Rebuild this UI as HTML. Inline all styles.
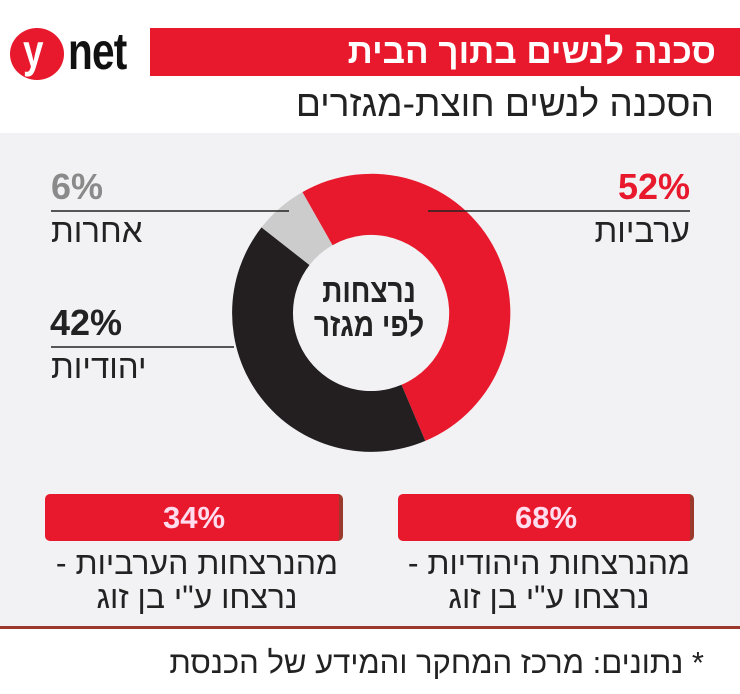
<!DOCTYPE html>
<html><head><meta charset="utf-8"><style>
html,body{margin:0;padding:0;background:#fff;}
body{width:740px;height:694px;position:relative;overflow:hidden;font-family:"Liberation Sans","DejaVu Sans",sans-serif;}
.t{position:absolute;white-space:nowrap;direction:rtl;}
</style></head><body>
<div style="position:absolute;left:10px;top:28px;width:54px;height:52px;border-radius:50%;background:#e8192c;"></div>
<div class="t" style="direction:ltr;left:23px;top:24px;font-size:46px;font-weight:bold;color:#fff;transform:scaleX(0.8);transform-origin:left;">y</div>
<div class="t" style="direction:ltr;left:68px;top:22px;font-size:52px;font-weight:bold;color:#111;transform:scaleX(0.78);transform-origin:left;letter-spacing:-1px;">net</div>
<div style="position:absolute;left:150px;top:28px;width:590px;height:48px;background:#e8192c;"></div>
<div class="t" style="right:24px;top:32px;font-size:35px;font-weight:bold;color:#fff;">סכנה לנשים בתוך הבית</div>
<div class="t" style="right:26px;top:83px;font-size:37px;color:#222;">הסכנה לנשים חוצת-מגזרים</div>
<div style="position:absolute;left:0;top:133px;width:740px;height:493px;background:#f2f2f4;"></div>
<div style="position:absolute;left:0;top:626px;width:740px;height:3px;background:#9b3a2c;"></div>
<svg style="position:absolute;left:0;top:0" width="740" height="694">
<g transform="translate(371,313)">
<path d="M -68.6 -120.9 A 139 139 0 1 1 54.3 127.9 L 30.5 71.8 A 78 78 0 1 0 -38.5 -67.8 Z" fill="#e8192c"/>
<path d="M 54.3 127.9 A 139 139 0 0 1 -109.5 -85.6 L -61.5 -48.0 A 78 78 0 0 0 30.5 71.8 Z" fill="#231f20"/>
<path d="M -109.5 -85.6 A 139 139 0 0 1 -68.6 -120.9 L -38.5 -67.8 A 78 78 0 0 0 -61.5 -48.0 Z" fill="#cccccc"/>
</g>
<line x1="428" y1="211" x2="690" y2="211" stroke="#222" stroke-width="1.5"/>
<line x1="51" y1="211" x2="289" y2="211" stroke="#222" stroke-width="1.5"/>
<line x1="51" y1="347" x2="234" y2="347" stroke="#222" stroke-width="1.5"/>
</svg>
<div class="t" style="right:50px;top:166px;font-size:36px;font-weight:bold;color:#e8192c;direction:ltr;">52%</div>
<div class="t" style="right:50px;top:212px;font-size:33px;color:#222;">ערביות</div>
<div class="t" style="left:51px;top:166px;font-size:36px;font-weight:bold;color:#8a8a8a;direction:ltr;">6%</div>
<div class="t" style="left:51px;top:212px;font-size:33px;color:#222;">אחרות</div>
<div class="t" style="left:50px;top:302px;font-size:36px;font-weight:bold;color:#222;direction:ltr;">42%</div>
<div class="t" style="left:51px;top:348px;font-size:33px;color:#222;">יהודיות</div>
<div class="t" style="left:291px;width:156px;text-align:center;top:274px;font-size:33px;line-height:34px;font-weight:bold;color:#222;direction:rtl;transform:scaleX(0.85);">נרצחות<br>לפי מגזר</div>
<div style="position:absolute;left:45px;top:494px;width:298px;height:47px;background:#e8192c;border-radius:5px;border-right:4px solid #9b3a2c;box-sizing:border-box;"></div>
<div style="position:absolute;left:398px;top:494px;width:296px;height:47px;background:#e8192c;border-radius:5px;border-right:4px solid #9b3a2c;box-sizing:border-box;"></div>
<div class="t" style="left:45px;width:298px;text-align:center;top:500px;font-size:31px;font-weight:bold;color:#fde;direction:ltr;">34%</div>
<div class="t" style="left:398px;width:296px;text-align:center;top:500px;font-size:31px;font-weight:bold;color:#fde;direction:ltr;">68%</div>
<div class="t" style="right:402px;top:546px;font-size:32px;line-height:34px;color:#222;text-align:center;">מהנרצחות הערביות -<br>נרצחו ע"י בן זוג</div>
<div class="t" style="right:50px;top:546px;font-size:32px;line-height:34px;color:#222;text-align:center;">מהנרצחות היהודיות -<br>נרצחו ע"י בן זוג</div>
<div class="t" style="right:36px;top:645px;font-size:31px;color:#222;">* נתונים: מרכז המחקר והמידע של הכנסת</div>
</body></html>
